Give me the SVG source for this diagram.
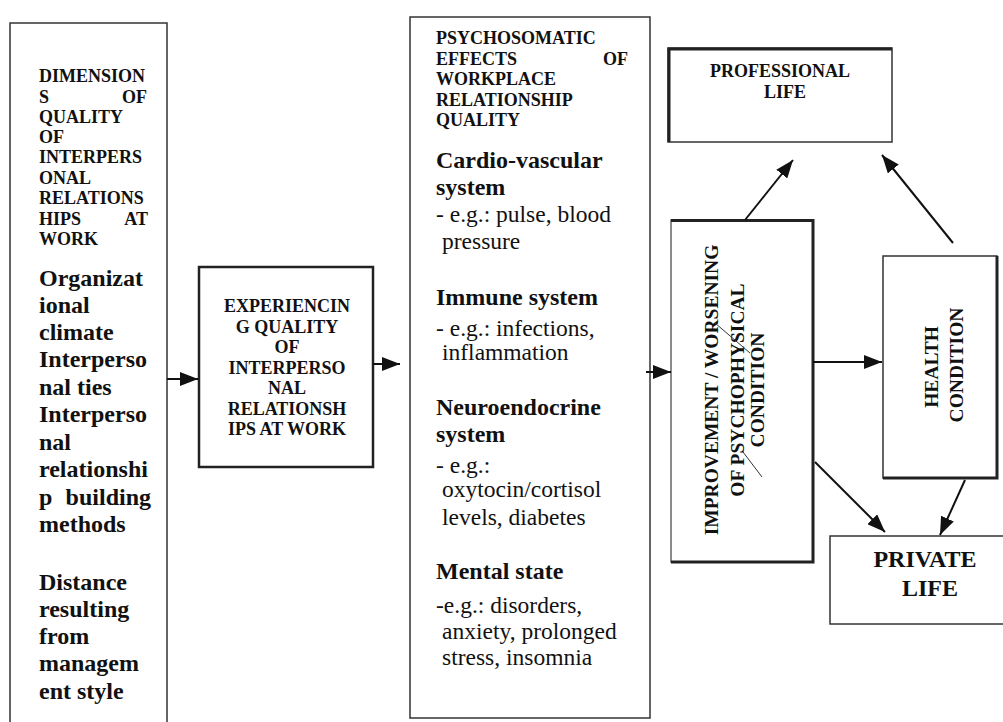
<svg xmlns="http://www.w3.org/2000/svg" width="1003" height="722" viewBox="0 0 1003 722">
<defs>
<marker id="ah" markerUnits="userSpaceOnUse" markerWidth="18" markerHeight="14" refX="18" refY="7" orient="auto">
<path d="M0,0 L18,7 L0,14 z" fill="#111"/>
</marker>
<style>
.box{fill:#fff;stroke:#333;stroke-width:1.5}
.thk{fill:none;stroke:#222;stroke-width:3}
.h{font-family:'Liberation Serif',serif;font-weight:bold;font-size:18px;fill:#111}
.b{font-family:'Liberation Serif',serif;font-weight:bold;font-size:24px;fill:#111}
.r{font-family:'Liberation Serif',serif;font-size:23.5px;fill:#111}
.rot{font-family:'Liberation Serif',serif;font-weight:bold;font-size:19.5px;fill:#111}
.c{text-anchor:middle}
.e{text-anchor:end}
.con{stroke:#111;stroke-width:2;fill:none}
</style>
</defs>
<rect width="1003" height="722" fill="#fff"/>

<g id="dimensions">
<rect class="box" x="10" y="23" width="157" height="720"/>
<text class="h" x="39" y="82">DIMENSION</text>
<text class="h" x="39" y="103">S</text><text class="h e" x="147" y="103">OF</text>
<text class="h" x="39" y="123">QUALITY</text>
<text class="h" x="39" y="143">OF</text>
<text class="h" x="39" y="163">INTERPERS</text>
<text class="h" x="39" y="184">ONAL</text>
<text class="h" x="39" y="204">RELATIONS</text>
<text class="h" x="39" y="225">HIPS</text><text class="h e" x="148" y="225">AT</text>
<text class="h" x="39" y="245">WORK</text>
<text class="b" x="39" y="286">Organizat</text>
<text class="b" x="39" y="313">ional</text>
<text class="b" x="39" y="340">climate</text>
<text class="b" x="39" y="367">Interperso</text>
<text class="b" x="39" y="395">nal ties</text>
<text class="b" x="39" y="422">Interperso</text>
<text class="b" x="39" y="450">nal</text>
<text class="b" x="39" y="477">relationshi</text>
<text class="b" x="39" y="505">p</text><text class="b e" x="151" y="505">building</text>
<text class="b" x="39" y="532">methods</text>
<text class="b" x="39" y="590">Distance</text>
<text class="b" x="39" y="617">resulting</text>
<text class="b" x="39" y="644">from</text>
<text class="b" x="39" y="671">managem</text>
<text class="b" x="39" y="699">ent style</text>
</g>

<g id="experiencing">
<rect x="199" y="267" width="174" height="200" fill="#fff" stroke="#222" stroke-width="2.5"/>
<text class="h c" x="287" y="312">EXPERIENCIN</text>
<text class="h c" x="287" y="332.5">G QUALITY</text>
<text class="h c" x="287" y="353">OF</text>
<text class="h c" x="287" y="373.5">INTERPERSO</text>
<text class="h c" x="287" y="394">NAL</text>
<text class="h c" x="287" y="414.5">RELATIONSH</text>
<text class="h c" x="287" y="435">IPS AT WORK</text>
</g>

<g id="psychosomatic">
<rect class="box" x="410" y="17" width="240" height="701"/>
<text class="h" x="436" y="44">PSYCHOSOMATIC</text>
<text class="h" x="436" y="65">EFFECTS</text><text class="h e" x="628" y="65">OF</text>
<text class="h" x="436" y="85">WORKPLACE</text>
<text class="h" x="436" y="106">RELATIONSHIP</text>
<text class="h" x="436" y="126">QUALITY</text>
<text class="b" x="436" y="168">Cardio-vascular</text>
<text class="b" x="436" y="195">system</text>
<text class="r" x="436" y="222">- e.g.: pulse, blood</text>
<text class="r" x="442" y="249">pressure</text>
<text class="b" x="436" y="305">Immune system</text>
<text class="r" x="436" y="336">- e.g.: infections,</text>
<text class="r" x="442" y="360">inflammation</text>
<text class="b" x="436" y="415">Neuroendocrine</text>
<text class="b" x="436" y="442">system</text>
<text class="r" x="436" y="473">- e.g.:</text>
<text class="r" x="442" y="497">oxytocin/cortisol</text>
<text class="r" x="442" y="525">levels, diabetes</text>
<text class="b" x="436" y="579">Mental state</text>
<text class="r" x="436" y="613">-e.g.: disorders,</text>
<text class="r" x="442" y="639">anxiety, prolonged</text>
<text class="r" x="442" y="665">stress, insomnia</text>
</g>

<g id="professional">
<rect class="box" x="668" y="48" width="224" height="94"/>
<path class="thk" d="M669,142 V49 H892"/>
<text class="h c" x="780" y="77">PROFESSIONAL</text>
<text class="h c" x="785" y="98">LIFE</text>
</g>

<g id="improvement">
<rect x="671" y="220" width="142" height="342" fill="#fff" stroke="#666" stroke-width="1.5"/>
<path class="thk" d="M671,220.5 H813 V562 H671"/>
<text class="rot c" transform="translate(718,390) rotate(-90)">IMPROVEMENT / WORSENING</text>
<text class="rot c" transform="translate(744,390) rotate(-90)">OF PSYCHOPHYSICAL</text>
<text class="rot c" transform="translate(764,390) rotate(-90)">CONDITION</text>
<line x1="715" y1="323" x2="750" y2="353" stroke="#333" stroke-width="1"/>
<line x1="743" y1="452" x2="762" y2="477" stroke="#333" stroke-width="1"/>
</g>

<g id="health">
<rect class="box" x="883" y="256" width="114" height="222"/>
<path class="thk" d="M997,256 V478 H883"/>
<text class="rot c" transform="translate(938,367) rotate(-90)">HEALTH</text>
<text class="rot c" transform="translate(963,365) rotate(-90)">CONDITION</text>
</g>

<g id="private">
<rect class="box" x="830" y="536" width="185" height="88"/>
<text class="b c" x="925" y="567">PRIVATE</text>
<text class="b c" x="930" y="596">LIFE</text>
</g>

<g id="connectors">
<line class="con" x1="167" y1="379" x2="198" y2="379" marker-end="url(#ah)"/>
<line class="con" x1="373" y1="364" x2="400" y2="364" marker-end="url(#ah)"/>
<line class="con" x1="646" y1="372" x2="671" y2="372" marker-end="url(#ah)"/>
<line class="con" x1="813" y1="362" x2="882" y2="362" marker-end="url(#ah)"/>
<line class="con" x1="745" y1="220" x2="793" y2="160" marker-end="url(#ah)"/>
<line class="con" x1="953" y1="243" x2="882" y2="155" marker-end="url(#ah)"/>
<line class="con" x1="815" y1="462" x2="885" y2="532" marker-end="url(#ah)"/>
<line class="con" x1="965" y1="480" x2="940" y2="535" marker-end="url(#ah)"/>
</g>
</svg>
